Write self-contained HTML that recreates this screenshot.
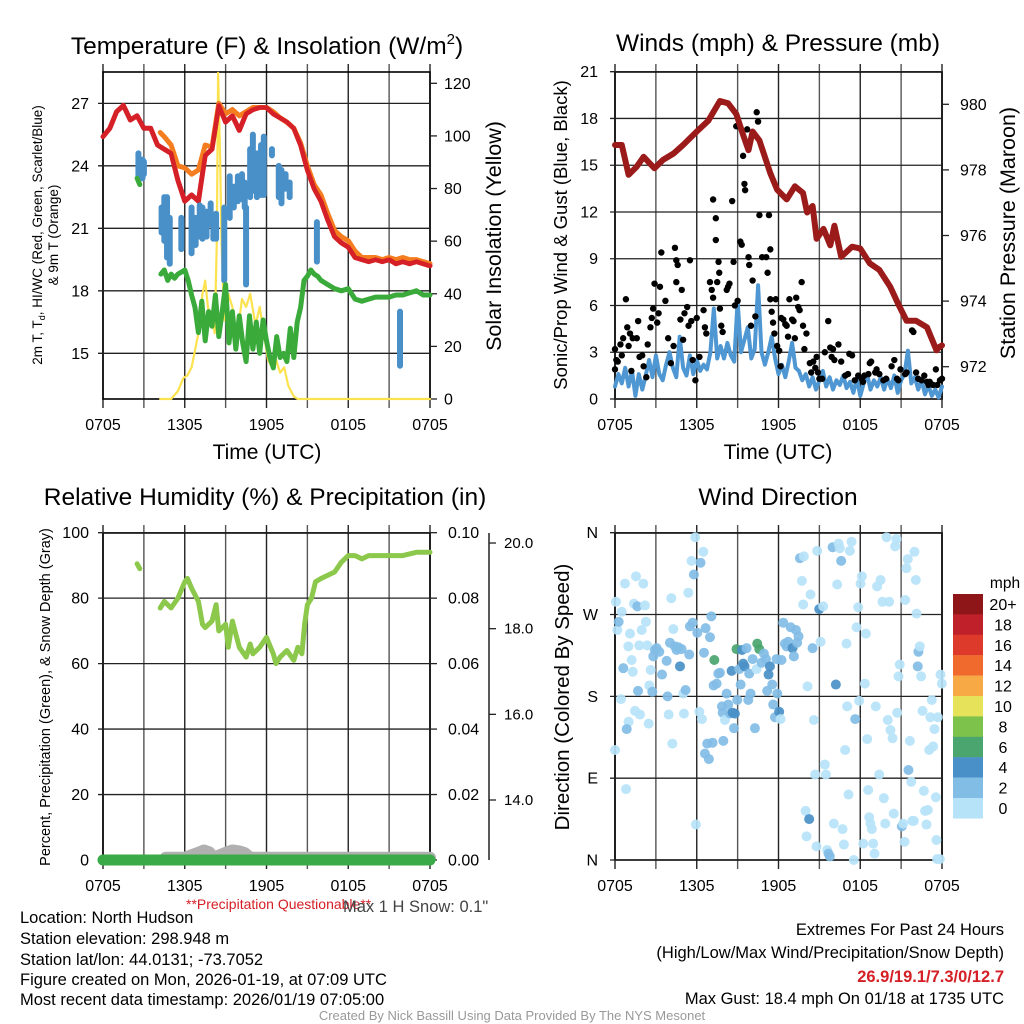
<!DOCTYPE html>
<html><head><meta charset="utf-8"><style>
html,body{margin:0;padding:0;background:#fff;}
svg{display:block;font-family:"Liberation Sans",Arial,sans-serif;}
</style></head><body>
<svg id="chart" width="1024" height="1024" viewBox="0 0 1024 1024" xmlns="http://www.w3.org/2000/svg">
<rect width="1024" height="1024" fill="#fff"/>
<text x="267" y="54" font-size="24.5" text-anchor="middle">Temperature (F) &amp; Insolation (W/m<tspan font-size="15" dy="-10">2</tspan><tspan dy="10">)</tspan></text>
<text x="778" y="51" font-size="24.5" text-anchor="middle">Winds (mph) &amp; Pressure (mb)</text>
<text x="265" y="505" font-size="24.5" text-anchor="middle">Relative Humidity (%) &amp; Precipitation (in)</text>
<text x="778" y="505" font-size="24.5" text-anchor="middle">Wind Direction</text>
<text x="267" y="459" font-size="21" text-anchor="middle">Time (UTC)</text>
<text x="778" y="459" font-size="21" text-anchor="middle">Time (UTC)</text>
<text transform="translate(42,235) rotate(-90)" font-size="13.5" text-anchor="middle">2m T, T<tspan font-size="9" dy="3">d</tspan><tspan dy="-3">, HI/WC (Red, Green, Scarlet/Blue)</tspan></text>
<text transform="translate(58,235) rotate(-90)" font-size="13.5" text-anchor="middle">&amp; 9m T (Orange)</text>
<text transform="translate(501,236) rotate(-90)" font-size="21.5" text-anchor="middle">Solar Insolation (Yellow)</text>
<text transform="translate(567,235) rotate(-90)" font-size="18.5" text-anchor="middle">Sonic/Prop Wind &amp; Gust (Blue, Black)</text>
<text transform="translate(1015,233) rotate(-90)" font-size="21.5" text-anchor="middle">Station Pressure (Maroon)</text>
<text transform="translate(50,697) rotate(-90)" font-size="14.5" text-anchor="middle">Percent, Precipitation (Green), &amp; Snow Depth (Gray)</text>
<text transform="translate(569,697) rotate(-90)" font-size="20.5" text-anchor="middle">Direction (Colored By Speed)</text>
<text x="1005" y="588" font-size="15.5" text-anchor="middle">mph</text>
<text x="186" y="909" font-size="14" fill="#d42026">**Precipitation Questionable**</text>
<text x="343" y="912" font-size="16.5" fill="#444">Max 1 H Snow: 0.1"</text>
<g font-size="16.5">
<text x="20" y="923">Location: North Hudson</text>
<text x="20" y="944">Station elevation: 298.948 m</text>
<text x="20" y="965">Station lat/lon: 44.0131; -73.7052</text>
<text x="20" y="985">Figure created on Mon, 2026-01-19, at 07:09 UTC</text>
<text x="20" y="1005">Most recent data timestamp: 2026/01/19 07:05:00</text>
</g>
<g font-size="16.5" text-anchor="end">
<text x="1004" y="935">Extremes For Past 24 Hours</text>
<text x="1004" y="958">(High/Low/Max Wind/Precipitation/Snow Depth)</text>
<text x="1004" y="982" fill="#d42026" font-weight="bold">26.9/19.1/7.3/0/12.7</text>
<text x="1004" y="1004">Max Gust: 18.4 mph On 01/18 at 1735 UTC</text>
</g>
<text x="512" y="1020" font-size="13" fill="#999" text-anchor="middle">Created By Nick Bassill Using Data Provided By The NYS Mesonet</text>
</svg>
<script>
// ---- data ----
const xTickLabels = ["0705","1305","1905","0105","0705"];
const xTickHours = [0,6,12,18,24];
const tempTicks = [15,18,21,24,27];
const insolTicks = [0,20,40,60,80,100,120];
const windTicks = [0,3,6,9,12,15,18,21];
const pressTicks = [972,974,976,978,980];
const rhTicks = [0,20,40,60,80,100];
const precipTicks = [0,0.02,0.04,0.06,0.08,0.10];
const snowTicks = [14,16,18,20];
const dirTicks = [0,90,180,270,360];
const dirLabels = ["N","E","S","W","N"];
const speedBins = ["20+","18","16","14","12","10","8","6","4","2","0"];
const speedColors = ["#8e1618","#c0202a","#de3a2c","#f06a2e","#f6a945","#e6e25a","#7dc24b","#4aa56e","#4a90c8","#82bde6","#b7e3f8"];

const redT = [0,0.5,1,1.5,2,2.5,3,3.5,4,4.5,5,5.5,6,6.5,7,7.5,8,8.5,9,9.5,10,10.5,11,11.5,12,12.5,13,13.5,14,14.5,15,15.5,16,16.5,17,17.5,18,18.5,19,19.5,20,20.5,21,21.5,22,22.5,23,23.5,24];
const redV = [25.4,25.8,26.6,26.9,26.2,26.4,25.8,25.8,25.0,24.8,24.6,23.3,22.3,22.6,22.3,24.5,24.8,26.9,26.1,26.4,25.7,26.5,26.7,26.8,26.8,26.5,26.3,26.1,25.8,25.0,23.8,22.9,22.3,21.4,20.6,20.3,20.1,19.6,19.5,19.4,19.5,19.4,19.5,19.3,19.4,19.3,19.4,19.3,19.2];
const orangeT = [4.2,4.5,5,5.5,6,6.5,7,7.5,8,8.5,9,9.5,10,10.5,11,11.5,12,12.5,13,13.5,14,14.5,15,15.5,16,16.5,17,17.5,18,18.5,19,19.5,20,20.5,21,21.5,22,22.5,23,23.5,24];
const orangeV = [25.6,25.4,25.0,24.0,23.9,23.6,23.8,25.0,24.9,27.0,26.5,26.7,26.4,26.6,26.8,26.8,26.8,26.6,26.3,26.1,25.8,25.1,24.0,23.1,22.6,21.7,20.9,20.6,20.4,19.9,19.6,19.6,19.6,19.5,19.6,19.5,19.6,19.5,19.5,19.4,19.3];
const dewEarlyT = [2.5,2.7];
const dewEarlyV = [23.4,23.1];
const dewT = [4.25,4.5,4.75,5,5.25,5.5,5.75,6,6.25,6.5,6.75,7,7.25,7.5,7.75,8,8.25,8.5,8.75,9,9.25,9.5,9.75,10,10.25,10.5,10.75,11,11.25,11.5,11.75,12,12.25,12.5,12.75,13,13.25,13.5,13.75,14,14.25,14.5,14.75,15,15.25,15.5,15.75,16,16.25,16.5,16.75,17,17.5,18,18.5,19,19.5,20,20.5,21,21.5,22,22.5,23,23.5,24];
const dewV = [18.8,19.0,18.5,18.8,18.6,18.8,18.9,19.0,18.5,17.8,17.2,16.0,17.5,15.6,17.0,16.3,17.8,15.8,17.0,18.3,15.5,17.0,15.2,16.8,15.5,14.6,16.8,15.2,16.5,15.0,16.6,15.6,14.8,14.3,15.8,14.8,15.0,14.6,16.2,14.8,16.5,17.2,18.5,18.7,19.0,18.8,18.7,18.5,18.4,18.3,18.2,18.1,18.0,18.1,17.6,17.5,17.6,17.7,17.7,17.7,17.8,17.8,17.9,18.0,17.8,17.8];
const hiwcT = [2.6,2.9,3.0,4.3,4.5,4.7,4.9,5.75,6.5,6.8,7.1,7.3,7.6,7.9,8.1,8.3,8.9,9.3,9.6,9.9,10.2,10.4,10.5,10.8,11.0,11.3,11.6,11.8,12.4,12.9,13.1,13.4,13.7,15.7,21.8];
const hiwcLo = [23.5,23.4,23.6,20.8,20.4,19.6,19.3,20.0,19.8,20.2,20.6,20.5,20.6,21.2,20.5,20.5,18.5,21.5,22.0,22.3,22.4,22.0,18.3,22.5,22.8,22.5,22.6,22.6,24.5,22.5,22.2,22.9,22.5,19.4,14.4];
const hiwcHi = [24.6,24.3,24.2,22.0,22.5,22.5,21.5,21.5,22.0,21.5,22.1,22.0,21.8,22.2,21.5,21.7,22.0,23.5,23.0,23.5,23.6,23.2,22.0,24.8,25.5,24.6,25.0,25.4,24.8,24.0,23.8,23.6,23.2,21.3,17.0];
const insolT = [4.2,5,5.5,5.9,6.2,6.5,7,7.3,7.5,7.7,8,8.2,8.35,8.45,8.6,8.7,8.9,9.2,9.5,9.8,10.2,10.5,10.8,11.2,11.5,11.8,12.1,12.4,12.7,13,13.3,13.6,14,14.3,24];
const insolV = [0,0,3,8,9,12,25,40,45,35,30,25,60,124,90,60,30,40,35,22,38,35,40,28,35,25,15,12,15,10,12,5,1,0,0];

const windV = [0.8,1.6,1.0,2.0,0.8,1.8,0.2,1.6,0.6,1.5,2.5,1.4,2.8,1.6,1.2,2.2,3.0,2.0,1.4,4.0,2.0,1.5,2.8,1.6,2.5,1.8,2.2,1.9,3.0,5.8,2.6,3.4,2.6,3.6,2.8,2.4,6.3,3.0,3.8,4.6,2.6,3.2,7.3,3.0,2.2,3.0,4.0,2.6,1.6,2.2,1.4,2.4,3.6,2.0,1.8,1.2,1.6,0.8,1.4,0.6,1.2,1.8,0.8,1.4,0.6,1.2,0.9,1.5,0.7,1.1,0.4,1.3,0.2,1.0,1.6,0.6,1.2,0.8,1.4,0.6,1.3,0.7,1.5,0.4,1.2,1.6,3.1,1.0,1.4,0.6,1.2,0.3,0.9,0.2,0.6,0.1,0.8];
const windStepHours = 0.25;
const gustT = [0.0,0.0,0.1,0.2,0.4,0.5,0.6,0.8,0.9,1.0,1.1,1.2,1.3,1.6,1.7,1.8,2.0,2.1,2.3,2.4,2.6,2.7,2.8,2.9,3.1,3.2,3.3,3.4,3.7,3.9,4.1,4.3,4.4,4.5,4.5,4.6,4.8,4.9,5.0,5.1,5.3,5.4,5.5,5.6,5.7,5.9,6.0,6.2,6.5,6.6,6.7,6.97,7.1,7.2,7.2,7.4,7.4,7.5,7.6,7.65,7.7,7.8,7.9,8.2,8.3,8.4,8.6,8.7,8.8,8.9,9.0,9.2,9.3,9.4,9.5,9.55,9.7,9.8,9.85,9.98,10.1,10.3,10.4,10.5,10.6,10.8,11.1,11.2,11.3,11.4,11.4,11.5,11.6,11.7,11.8,11.9,12.05,12.15,12.2,12.35,12.5,12.6,12.7,12.8,13.0,13.1,13.2,13.3,13.45,13.55,13.7,13.8,13.9,14.05,14.3,14.4,14.55,14.7,14.8,14.9,15.0,15.2,15.4,15.65,15.8,15.9,16.0,16.1,16.4,16.6,16.9,17.1,17.2,17.4,17.6,17.85,18.1,18.2,18.3,18.6,18.7,18.8,19.1,19.2,19.4,19.7,19.9,20.3,20.5,20.7,20.8,20.95,21.3,21.4,21.8,21.9,22.1,22.25,22.5,22.7,22.9,23.0,23.1,23.35,23.55,23.65,23.85,24.0];
const gustV = [3.2,1.9,2.5,2.4,3.5,2.8,3.9,6.4,4.6,3.4,4.2,1.8,3.9,3.9,5.0,2.7,2.8,2.1,1.4,3.5,4.6,5.2,5.8,7.4,4.9,5.5,7.2,9.4,6.3,3.9,2.3,3.4,9.7,7.5,8.9,8.6,5.1,7.0,3.8,5.5,5.9,4.7,8.9,5.0,2.5,1.2,5.2,2.7,5.7,4.6,4.2,7.5,7.0,6.5,12.8,10.2,11.6,7.5,8.8,8.1,5.8,4.7,4.3,7.0,7.2,7.4,12.7,8.8,6.0,17.5,6.3,10.1,9.9,15.6,13.8,13.4,17.3,9.1,8.6,4.7,7.6,5.3,18.4,17.8,11.8,9.1,9.1,8.1,11.8,9.6,6.4,5.6,4.9,4.2,6.4,3.4,3.1,2.1,5.2,5.1,4.8,4.7,4.0,6.4,5.1,5.0,3.9,6.5,5.9,5.7,7.5,4.7,3.2,4.2,2.3,1.7,2.4,2.0,2.7,1.7,1.3,1.3,3.0,5.0,3.3,2.7,3.2,2.5,3.5,2.4,1.5,1.6,2.9,2.8,1.2,1.5,1.3,1.1,1.5,1.6,2.3,2.4,1.7,1.9,1.6,1.2,1.3,2.1,2.5,1.3,1.2,1.9,1.6,1.7,4.4,4.3,1.7,1.3,1.2,1.5,1.1,0.9,1.1,0.9,1.9,0.9,1.2,1.3];
const pressT = [0,0.5,1,1.6,2.1,2.9,3.5,4.3,5,6,6.85,7.7,8.3,8.9,9.4,9.8,10.1,10.6,11.4,11.9,12.6,13.2,13.8,14.1,14.5,14.8,15.3,15.8,16.1,16.6,17.4,18,18.7,19.4,20.2,20.8,21.4,22.1,22.9,23.6,23.8,24];
const pressV = [978.76,978.76,977.85,978.1,978.4,978.05,978.3,978.5,978.76,979.17,979.5,980.1,980.03,979.7,979.07,978.6,979.17,978.9,977.9,977.4,977.1,977.5,977.3,976.7,976.9,975.9,976.2,975.7,976.3,975.35,975.66,975.6,975.15,974.95,974.44,973.9,973.4,973.4,973.2,972.5,972.6,972.65];

const rhEarlyT = [2.5,2.7];
const rhEarlyV = [90.5,89];
const rhT = [4.2,4.5,5,5.5,6,6.2,6.5,7,7.3,7.5,8,8.3,8.5,9,9.2,9.5,10,10.5,10.8,11,11.5,12,12.5,12.7,13,13.5,14,14.3,14.6,14.8,15,15.3,15.6,16,16.5,17,17.5,18,18.5,19,19.5,20,21,22,23,24];
const rhV = [77,79,77,80,85,86,83,79,72,71,73,78,70,72,65,73,65,62,66,63,65,68,63,60,62,64,61,65,63,72,78,80,85,86,87,88,91,93,93,92,93,93,93,93,94,94];
const precipT = [0,6,12,18,24];
const precipV = [0,0,0,0,0];
const snowT = [4.6,6,7.1,7.4,7.8,8.1,9.1,9.5,10,10.4,10.8,24];
const snowV = [12.65,12.65,12.78,12.82,12.78,12.65,12.78,12.82,12.8,12.76,12.65,12.65];

const dirT = [0.07,0.17,0.27,0.49,0.73,0,0.81,0.61,0.44,0.98,1.1,1.22,1.3,1.39,1.54,1.64,1.78,1.96,2.08,2.2,2.27,2.37,2.47,1.83,1.47,1.0,0.86,1.69,2.52,2.62,2.74,2.81,2.93,3.06,3.25,3.45,3.79,3.86,3.94,4.13,4.21,4.28,4.03,4.4,4.52,4.65,4.77,4.89,5.01,5.06,5.18,5.38,5.45,5.5,5.62,5.7,5.79,5.89,5.94,6.04,6.19,6.28,6.38,6.48,6.53,6.65,6.6,6.77,6.89,6.97,7.07,7.16,7.24,7.29,7.46,7.58,7.7,7.85,7.9,7.95,8.07,8.19,8.31,8.44,8.56,8.63,8.73,8.8,8.92,8.97,9.12,9.22,9.32,9.41,9.51,9.66,9.78,9.85,9.95,10.1,10.27,10.39,10.44,10.59,10.76,10.93,11.08,11.17,11.27,11.37,11.54,11.61,11.74,11.91,12.05,12.15,11.86,12.22,12.35,12.47,12.59,12.71,12.89,13.03,13.13,13.28,13.37,13.47,13.57,13.72,13.81,13.86,13.99,14.06,14.13,14.25,14.35,14.5,14.6,14.69,14.79,14.84,14.99,15.09,15.28,15.4,15.48,15.57,15.67,15.77,15.97,16.06,16.21,16.31,16.41,16.5,16.6,16.7,16.8,16.89,16.99,17.04,17.14,17.24,17.36,17.53,17.63,17.73,17.85,17.92,18.02,18.12,18.22,18.34,18.41,18.51,18.58,18.66,18.75,18.85,18.95,19.05,19.14,19.24,19.39,19.49,19.63,19.73,19.83,19.93,20.02,20.12,20.22,20.37,20.46,20.56,20.66,20.71,20.81,20.9,21.05,21.15,21.25,21.3,21.39,21.49,21.54,21.64,21.74,21.83,21.93,21.98,22.08,22.13,22.22,22.27,22.37,22.47,22.57,22.67,22.76,22.86,22.96,23.06,23.15,23.25,23.35,23.45,23.55,23.59,23.64,23.69,23.84,23.89,23.99];
const dirV = [284,253,262,273,304,121,78,211,177,235,249,220,207,282,312,279,236,253,304,280,262,236,150,160,164,152,144,186,192,209,185,224,231,233,229,204,219,180,160,288,128,254,239,235,231,234,213,232,183,161,187,294,226,257,329,261,314,355,39,250,163,327,155,339,228,255,117,128,111,245,268,129,192,220,194,205,206,169,162,131,154,183,171,161,208,162,145,161,232,176,210,193,231,216,213,233,176,205,183,221,145,210,238,232,217,227,221,186,204,213,193,171,157,183,163,155,221,220,261,238,235,240,256,233,224,253,239,246,332,307,281,334,54,26,191,45,292,233,154,94,15,340,276,240,279,105,94,11,7,4,344,40,193,303,348,343,329,34,17,121,238,169,72,340,350,0,155,256,278,175,304,312,18,194,249,133,77,47,40,34,18,7,169,301,94,308,284,68,40,355,154,284,143,134,51,345,353,162,202,215,37,40,20,286,321,331,99,131,86,43,43,339,308,271,213,229,235,202,164,76,54,39,55,121,157,176,125,144,69,22,1,157,1,204,194];
const dirSpd = [1,1,3,1,1,1,1,3,1,1,1,1,1,1,1,3,1,1,1,1,1,1,1,1,1,1,3,3,1,1,3,3,3,3,3,3,3,3,1,1,1,1,3,3,3,3,5,3,1,1,3,1,3,3,1,3,3,1,1,3,1,3,1,1,3,3,3,3,3,3,3,3,3,7,3,3,3,3,3,3,1,3,3,3,5,5,3,5,7,3,3,3,5,5,5,3,3,3,3,3,3,1,7,7,3,3,3,3,5,5,3,3,3,3,5,1,3,3,3,3,3,3,3,5,3,3,3,3,3,1,1,1,1,1,1,5,1,3,1,1,1,1,5,1,1,1,1,1,3,3,3,1,5,1,1,1,3,1,1,1,1,1,1,1,1,1,3,1,1,1,1,1,1,1,1,1,1,1,1,1,1,1,1,1,1,1,1,1,1,1,1,1,1,1,1,1,1,1,1,1,3,1,1,1,1,1,3,1,1,1,1,1,1,1,3,3,1,1,1,1,1,1,1,1,1,1,1,1,1,1,1,1,1,1,1,1,1,1,1,1];

// ---- drawing ----
const svg = document.getElementById('chart');
const NS = 'http://www.w3.org/2000/svg';
function mk(tag, attrs, parent){
  const e = document.createElementNS(NS, tag);
  for (const k in attrs) e.setAttribute(k, attrs[k]);
  (parent || svg).appendChild(e);
  return e;
}
const L1 = 103, R1 = 430, L2 = 615, R2 = 942;
const xA = t => L1 + t * (R1 - L1) / 24;
const xB = t => L2 + t * (R2 - L2) / 24;
const yTemp = v => 353.3 - (v - 15) * 20.83;
const yIns = v => 399 - v * (399 - 83.3) / 120;
const yWind = v => 399 - v * (327.3 / 21);
const yPres = p => 366.7 - (p - 972) * 32.8;
const yRH = v => 860 - v * 3.273;
const yPrec = v => 860 - v * 3273;
const ySnow = v => 800 - (v - 14) * 42.83;
const yDir = d => 860 - d * (327.3 / 360);

function frame(name, x0, x1, y0, y1){
  const g = mk('g', {});
  
  
  for (let i = 0; i <= 8; i++) {
    const x = x0 + i * (x1 - x0) / 8;
    const ln = mk('line', {x1:x, x2:x, y1:y0-8, y2:y1+9, stroke: i%2 ? '#555':'#222', 'stroke-width':1.4}, g);
    
    
  }
  const r = mk('rect', {x:x0, y:y0, width:x1-x0, height:y1-y0, fill:'none', stroke:'#000', 'stroke-width':1.6}, g);
  
  
  for (let i = 0; i < xTickHours.length; i++) {
    const x = x0 + xTickHours[i] * (x1 - x0) / 24;
    const t = mk('text', {x:x, y:y1+31, 'font-size':16, 'text-anchor':'middle'}, g);
    t.textContent = xTickLabels[i];
    
    
  }
  return g;
}
function yAxis(g, ticks, fy, x0, x1, side, fmt, lx){
  ticks.forEach(v => {
    const y = fy(v);
    const ln = mk('line', side==='L' ? {x1:x0-5, x2:x1, y1:y, y2:y, stroke:'#222', 'stroke-width':1.3} : {x1:x1, x2:x1+7, y1:y, y2:y, stroke:'#222', 'stroke-width':1.3}, g);
    
    
    const t = mk('text', {x:lx, y:y+5.5, 'font-size':16, 'text-anchor': side==='L' ? 'end':'start'}, g);
    t.textContent = fmt(v);
    
    
  });
}
function line(ts, vs, fx, fy, color, w, name, parent){
  const p = mk('polyline', {points: ts.map((t,i)=>fx(t).toFixed(1)+','+fy(vs[i]).toFixed(1)).join(' '), fill:'none', stroke:color, 'stroke-width':w, 'stroke-linejoin':'round', 'stroke-linecap':'round'}, parent);
  
  
  return p;
}

// Panel 1
const g1 = frame('temperature-plot', L1, R1, 72, 399);
yAxis(g1, tempTicks, yTemp, L1, R1, 'L', v=>String(v), 89);
yAxis(g1, insolTicks, yIns, L1, R1, 'R', v=>String(v), 444);
line(insolT, insolV, xA, yIns, '#fde24f', 2.2, 'insolation-line', g1);
line(redT, redV, xA, yTemp, '#d42026', 5, 'temperature-2m-line', g1);
line(orangeT, orangeV, xA, yTemp, '#f47d20', 5, 'temperature-9m-line', g1);
line(redT.filter(t=>t>=4.2), redV.filter((v,i)=>redT[i]>=4.2), xA, yTemp, '#d42026', 4.5, 'temperature-2m-overlay', g1);
hiwcT.forEach((t,i) => {
  const s = mk('line', {x1:xA(t), x2:xA(t), y1:yTemp(hiwcLo[i]), y2:yTemp(hiwcHi[i]), stroke:'#4a90c8', 'stroke-width':6, 'stroke-linecap':'round'}, g1);
  
  
});
line(dewEarlyT, dewEarlyV, xA, yTemp, '#3aaa3a', 5, 'dewpoint-line-early', g1);
line(dewT, dewV, xA, yTemp, '#3aaa3a', 5, 'dewpoint-line', g1);

// Panel 2
const g2 = frame('winds-plot', L2, R2, 72, 399);
yAxis(g2, windTicks, yWind, L2, R2, 'L', v=>String(v), 598);
yAxis(g2, pressTicks, yPres, L2, R2, 'R', v=>String(v), 960);
line(windV.map((v,i)=>i*windStepHours), windV, xB, yWind, '#4f97d2', 4, 'sonic-wind-line', g2);
gustT.forEach((t,i) => {
  const c = mk('circle', {cx:xB(t), cy:yWind(gustV[i]), r:3.2, fill:'#000'}, g2);
  
  
});
line(pressT, pressV, xB, yPres, '#9b1b1b', 6, 'pressure-line', g2);

// Panel 3
const g3 = frame('humidity-plot', L1, R1, 533, 860);
yAxis(g3, rhTicks, yRH, L1, R1, 'L', v=>String(v), 89);
yAxis(g3, precipTicks, yPrec, L1, R1, 'R', v=>v.toFixed(2), 448);
const sa = mk('line', {x1:489, x2:489, y1:533, y2:860, stroke:'#222', 'stroke-width':1.5}, g3);


snowTicks.forEach(v => {
  const y = ySnow(v);
  const tk = mk('line', {x1:489, x2:496, y1:y, y2:y, stroke:'#222', 'stroke-width':1.3}, g3);
  
  
  const t = mk('text', {x:504, y:y+5, 'font-size':15}, g3);
  t.textContent = v.toFixed(1);
  
  
});
line(snowT, snowV, xA, ySnow, '#b0b0b0', 12, 'snow-depth-line', g3);
line(precipT, precipV, xA, yPrec, '#3aaa48', 11, 'precipitation-line', g3);
line(rhEarlyT, rhEarlyV, xA, yRH, '#8cc84b', 5, 'humidity-line-early', g3);
line(rhT, rhV, xA, yRH, '#8cc84b', 5, 'humidity-line', g3);

// Panel 4
const g4 = frame('direction-plot', L2, R2, 533, 860);
yAxis(g4, dirTicks, yDir, L2, R2, 'L', v=>dirLabels[dirTicks.indexOf(v)], 598);
function spColor(s){ const idx = Math.min(10, Math.floor(s/2)); return speedColors[10-idx]; }
dirT.forEach((t,i) => {
  const c = mk('circle', {cx:xB(t), cy:yDir(dirV[i]), r:5, fill:spColor(dirSpd[i]), opacity:0.92}, g4);
  
  
});
const cb = mk('g', {});


speedBins.forEach((lab,i) => {
  const y = 594 + i * 20.4;
  const r = mk('rect', {x:953, y:y, width:30, height:20.6, fill:speedColors[i]}, cb);
  
  
  const t = mk('text', {x:1003, y:y+16, 'font-size':16, 'text-anchor':'middle'}, cb);
  t.textContent = lab;
  
  
});
</script>
</body></html>
